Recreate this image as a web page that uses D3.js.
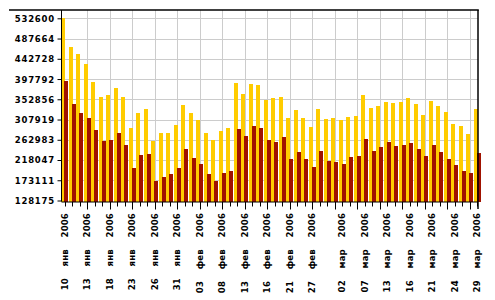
<!DOCTYPE html>
<html>
<head>
<meta charset="utf-8">
<script src="https://cdn.jsdelivr.net/npm/d3@7/dist/d3.min.js"></script>
<style>
  body { margin: 0; background: #fff; }
  svg { display: block; }
  text { font-family: "DejaVu Sans", Verdana, sans-serif; font-weight: bold; font-size: 8.5px; fill: #000; }
</style>
</head>
<body>
<div id="chart"></div>
<script>
// ===============================
// ДАННЫЕ (10 янв - 29 мар 2006)
// ===============================
const yellowValues = [
  532600, 468900, 453400, 431200, 391200, 358000, 362400, 377900, 358000, 289200,
  322500, 331300, 260300, 278100, 278100, 295800, 340200, 322500, 306900, 278100,
  262500, 282500, 289200, 389000, 364600, 386800, 384600, 352000, 355700, 358000,
  311400, 329100, 311400, 291400, 331300, 309100, 311400, 306900, 313600, 315800,
  362400, 333600, 338000, 346900, 344600, 346900, 355700, 342400, 318000, 349100,
  338000, 324700, 298000, 293600, 275900, 331300
];

const redValues = [
  393500, 342400, 322500, 311400, 284700, 260300, 262500, 278100, 251400, 200400,
  229300, 231500, 171600, 180400, 187100, 200400, 242600, 222600, 209300, 187100,
  171600, 189300, 193700, 287000, 271400, 293600, 289200, 262500, 258100, 269200,
  220400, 235900, 220400, 202600, 238100, 215900, 213700, 209300, 224800, 227000,
  264800, 238100, 247000, 258100, 249200, 251400, 255900, 242600, 227000, 251400,
  235900, 220400, 207100, 193700, 189300, 233700
];

const yTicks = [128175, 173111, 218047, 262983, 307919, 352856, 397792, 442728, 487664, 532600];

const xTickIndex = [0, 3, 6, 9, 12, 15, 18, 21, 24, 27, 30, 33, 37, 40, 43, 46, 49, 52, 55];
const xTickLabels = [
  '10 янв 2006', '13 янв 2006', '18 янв 2006', '23 янв 2006', '26 янв 2006',
  '31 янв 2006', '03 фев 2006', '08 фев 2006', '13 фев 2006', '16 фев 2006',
  '21 фев 2006', '27 фев 2006', '02 мар 2006', '07 мар 2006', '13 мар 2006',
  '16 мар 2006', '21 мар 2006', '24 мар 2006', '29 мар 2006'
];

// ===============================
// РАЗМЕТКА
// ===============================
const width = 495, height = 300;
const plotLeft = 61.5, plotRight = 478, plotTop = 10, plotBottom = 201.5;

const svg = d3.select('#chart')
  .append('svg')
  .attr('width', width)
  .attr('height', height);

const x = d3.scaleBand()
  .domain(d3.range(yellowValues.length))
  .range([61.3, 61.3 + 7.5 * yellowValues.length])
  .padding(0);

const y = d3.scaleLinear()
  .domain([yTicks[0], yTicks[yTicks.length - 1]])
  .range([200.5, 18.3]);

const center = i => x(i) + 3.4;

// сетка
const grid = svg.append('g').attr('stroke', '#cccccc').attr('stroke-width', 1);
grid.selectAll('line.h')
  .data(yTicks.slice(1))
  .enter().append('line')
  .attr('x1', plotLeft).attr('x2', plotRight)
  .attr('y1', d => Math.round(y(d)) + 0.5)
  .attr('y2', d => Math.round(y(d)) + 0.5);

grid.selectAll('line.v')
  .data(d3.range(3, yellowValues.length, 3))
  .enter().append('line')
  .attr('x1', d => Math.round(center(d)) + 0.5)
  .attr('x2', d => Math.round(center(d)) + 0.5)
  .attr('y1', plotTop).attr('y2', plotBottom);

// столбики
const bars = svg.append('g').attr('shape-rendering', 'crispEdges');
bars.selectAll('rect.yel')
  .data(yellowValues)
  .enter().append('rect')
  .attr('x', (d, i) => x(i))
  .attr('y', d => y(d))
  .attr('width', 4)
  .attr('height', d => plotBottom - y(d))
  .attr('fill', '#ffcc00');

bars.selectAll('rect.red')
  .data(redValues)
  .enter().append('rect')
  .attr('x', (d, i) => x(i) + 2.8)
  .attr('y', d => y(d))
  .attr('width', 4)
  .attr('height', d => plotBottom - y(d))
  .attr('fill', '#a01200');

// рамка
const frame = svg.append('g').attr('stroke', '#000');
frame.append('line').attr('x1', 9).attr('x2', plotRight + 0.8).attr('y1', plotTop).attr('y2', plotTop).attr('stroke-width', 1.5);
frame.append('line').attr('x1', plotRight).attr('x2', plotRight).attr('y1', plotTop).attr('y2', 209).attr('stroke-width', 1.5);
frame.append('line').attr('x1', plotLeft).attr('x2', plotLeft).attr('y1', plotTop).attr('y2', plotBottom);
frame.append('line').attr('x1', plotLeft).attr('x2', plotRight).attr('y1', plotBottom + 0.5).attr('y2', plotBottom + 0.5);

// ось Y
const yAxis = svg.append('g')
  .attr('transform', `translate(${plotLeft},0)`)
  .call(d3.axisLeft(y)
    .tickValues(yTicks)
    .tickSize(4)
    .tickPadding(2.5)
    .tickFormat(d => d));
yAxis.select('.domain').remove();
yAxis.selectAll('text')
  .style('letter-spacing', '0.8px')
  .attr('dy', '0.35em');

// ось X: засечки
const xAxis = svg.append('g')
  .attr('transform', `translate(0,${plotBottom + 0.5})`)
  .call(d3.axisBottom(x)
    .tickValues(d3.range(yellowValues.length))
    .tickSize(4.5)
    .tickFormat(''));
xAxis.select('.domain').remove();
xAxis.selectAll('.tick')
  .attr('transform', d => `translate(${Math.round(center(d)) + 0.5},0)`)
  .select('line')
  .attr('y2', d => (d % 3 === 0 && d > 0) ? 7.5 : 4.5);

// подписи дат
svg.append('g')
  .selectAll('text')
  .data(xTickIndex)
  .enter().append('text')
  .attr('transform', d => `translate(${center(d) + 3},213) rotate(-90)`)
  .attr('text-anchor', 'end')
  .style('word-spacing', '8.5px')
  .style('letter-spacing', '0.2px')
  .text((d, i) => xTickLabels[i]);
</script>
</body>
</html>
